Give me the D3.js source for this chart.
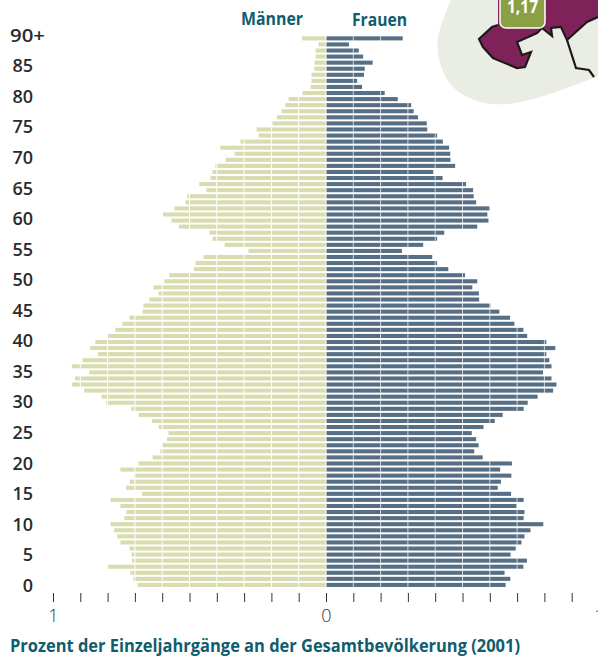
<!DOCTYPE html>
<html><head>
<meta charset="utf-8">
<title>Alterspyramide 2001</title>
<script src="https://d3js.org/d3.v7.min.js"></script>
<style>
  html, body { margin: 0; padding: 0; background: #fff; }
  svg { display: block; }
  text { font-family: "Open Sans", sans-serif; }
  .head { font-weight: 700; fill: #0f5d6e; font-size: 17px; }
  .age text { font-size: 18px; font-weight: 600; fill: #2b2b2b; }
  .pct text { font-size: 18px; font-weight: 300; fill: #333; }
  .pct line { stroke: #333; }
</style>
</head>
<body>
<svg id="chart" width="598" height="656"></svg>
<script>
// Ages run from the top row (90+) down to 0
const ages = d3.range(90, -1, -1);

const men = [
  0.088, 0.027, 0.038, 0.038, 0.042, 0.043, 0.053, 0.053, 0.056, 0.086,
  0.137, 0.150, 0.163, 0.180, 0.196, 0.254, 0.247, 0.313, 0.387, 0.335,
  0.368, 0.405, 0.416, 0.423, 0.464, 0.438, 0.508, 0.515, 0.555, 0.597,
  0.566, 0.539, 0.427, 0.416, 0.371, 0.284, 0.449, 0.478, 0.484, 0.574,
  0.592, 0.632, 0.613, 0.647, 0.669, 0.672, 0.720, 0.746, 0.772, 0.798,
  0.845, 0.864, 0.835, 0.892, 0.931, 0.867, 0.919, 0.930, 0.886, 0.822,
  0.805, 0.713, 0.686, 0.637, 0.613, 0.577, 0.582, 0.601, 0.607, 0.635,
  0.687, 0.753, 0.702, 0.719, 0.733, 0.674, 0.789, 0.753, 0.731, 0.739,
  0.789, 0.776, 0.765, 0.753, 0.720, 0.712, 0.711, 0.799, 0.717, 0.706,
  0.690
];

const women = [
  0.281, 0.084, 0.120, 0.136, 0.171, 0.142, 0.139, 0.114, 0.132, 0.215,
  0.263, 0.312, 0.321, 0.337, 0.369, 0.371, 0.407, 0.428, 0.451, 0.455,
  0.456, 0.473, 0.393, 0.427, 0.513, 0.539, 0.541, 0.550, 0.600, 0.591,
  0.595, 0.554, 0.433, 0.407, 0.356, 0.278, 0.389, 0.407, 0.448, 0.509,
  0.554, 0.536, 0.560, 0.561, 0.602, 0.635, 0.674, 0.690, 0.723, 0.737,
  0.807, 0.840, 0.807, 0.818, 0.826, 0.795, 0.826, 0.844, 0.832, 0.775,
  0.739, 0.724, 0.647, 0.618, 0.577, 0.534, 0.550, 0.559, 0.543, 0.574,
  0.681, 0.638, 0.679, 0.641, 0.629, 0.678, 0.724, 0.698, 0.727, 0.724,
  0.796, 0.749, 0.727, 0.716, 0.695, 0.676, 0.736, 0.723, 0.654, 0.675,
  0.658
];

const ageTicks = d3.range(0, 91, 5);
const pctTicks = d3.range(-10, 11).map(d => d / 10);

// Corner map, outlines only (not data)
const landEdge = [[451,0],[438,38],[440,63],[453,87],[480,102],[507,104],[540,97],[593,78],[598,76]];
const regionShape = [[498,25],[492,27],[479,39],[483,47],[493,58],[517,68],[525,67],[531,52],[522,55],[517,42],[537,33],[542,28],[552,36],[551,28],[561,27],[567,40],[587,22],[598,17],[598,0],[498,0]];
const borderLine = [[567,40],[576,68],[589,70],[594,77]];

const svg = d3.select("#chart");

const x = d3.scaleLinear().domain([-1, 1]).range([53, 599]);
const y = d3.scaleBand().domain(ages).range([35.3, 588]).paddingInner(0.33).paddingOuter(0.17);
const yLabel = d3.scaleLinear().domain([0, 90]).range([585.5, 35.5]);

// Bars
svg.append("g").selectAll("rect").data(men).join("rect")
   .attr("x", d => x(-d)).attr("y", (d, i) => y(ages[i]))
   .attr("width", d => x(0) - x(-d)).attr("height", y.bandwidth())
   .attr("fill", "#d8dcae");

svg.append("g").selectAll("rect").data(women).join("rect")
   .attr("x", x(0)).attr("y", (d, i) => y(ages[i]))
   .attr("width", d => x(d) - x(0)).attr("height", y.bandwidth())
   .attr("fill", "#566f85");

// White grid over the bars
svg.append("g").selectAll("line").data(pctTicks).join("line")
   .attr("x1", d => x(d)).attr("x2", d => x(d))
   .attr("y1", y.range()[0]).attr("y2", y.range()[1])
   .attr("stroke", "#fff").attr("stroke-width", 1).attr("stroke-opacity", d => d > 0 ? 0.7 : 1);

// Map goes on top so the grid does not cross it
const outline = d3.line();
const smooth = d3.line().curve(d3.curveCatmullRom);
const map = svg.append("g");
map.append("path").attr("d", smooth(landEdge) + "L598,0Z").attr("fill", "#e9ede3");
map.append("path").attr("d", outline(regionShape) + "Z").attr("fill", "#80225a");
map.append("path").attr("d", outline(regionShape.slice(0, 18)))
   .attr("fill", "none").attr("stroke", "#1d1a1c").attr("stroke-width", 2.2);
map.append("path").attr("d", outline(borderLine))
   .attr("fill", "none").attr("stroke", "#1d1a1c").attr("stroke-width", 2.2);
map.append("rect").attr("x", 500).attr("y", -12).attr("width", 45).attr("height", 40).attr("rx", 6)
   .attr("fill", "#8aa043").attr("stroke", "#fff").attr("stroke-width", 1.5);
map.append("text").attr("x", 507).attr("y", 13).attr("textLength", 31).attr("lengthAdjust", "spacingAndGlyphs")
   .attr("fill", "#fff").attr("font-size", 17).attr("font-weight", 700).text("1,17");

// Age labels
const ageAxis = d3.axisLeft(yLabel).tickValues(ageTicks).tickSize(0).tickPadding(0)
   .tickFormat(d => d === 90 ? "90+" : d);
const ageG = svg.append("g").attr("class", "age").attr("transform", "translate(33,0)").call(ageAxis);
ageG.select(".domain").remove();
ageG.selectAll("text").filter(d => d === 90)
   .attr("text-anchor", "start").attr("x", -23).attr("textLength", 35).attr("lengthAdjust", "spacingAndGlyphs");

// Percent axis
const pctAxis = d3.axisBottom(x).tickValues(pctTicks).tickSize(9).tickPadding(7)
   .tickFormat(d => Math.abs(d) === 1 ? "1" : d === 0 ? "0" : "");
const pctG = svg.append("g").attr("class", "pct").attr("transform", "translate(0,593)").call(pctAxis);
pctG.select(".domain").remove();

// Headings
svg.append("text").attr("class", "head").attr("x", 241).attr("y", 25).attr("textLength", 62).attr("lengthAdjust", "spacingAndGlyphs").text("Männer");
svg.append("text").attr("class", "head").attr("x", 352).attr("y", 26).attr("textLength", 55).attr("lengthAdjust", "spacingAndGlyphs").text("Frauen");
svg.append("text").attr("class", "head").attr("x", 10).attr("y", 652).attr("textLength", 510).attr("lengthAdjust", "spacingAndGlyphs")
   .text("Prozent der Einzeljahrgänge an der Gesamtbevölkerung (2001)");
</script>
</body></html>
